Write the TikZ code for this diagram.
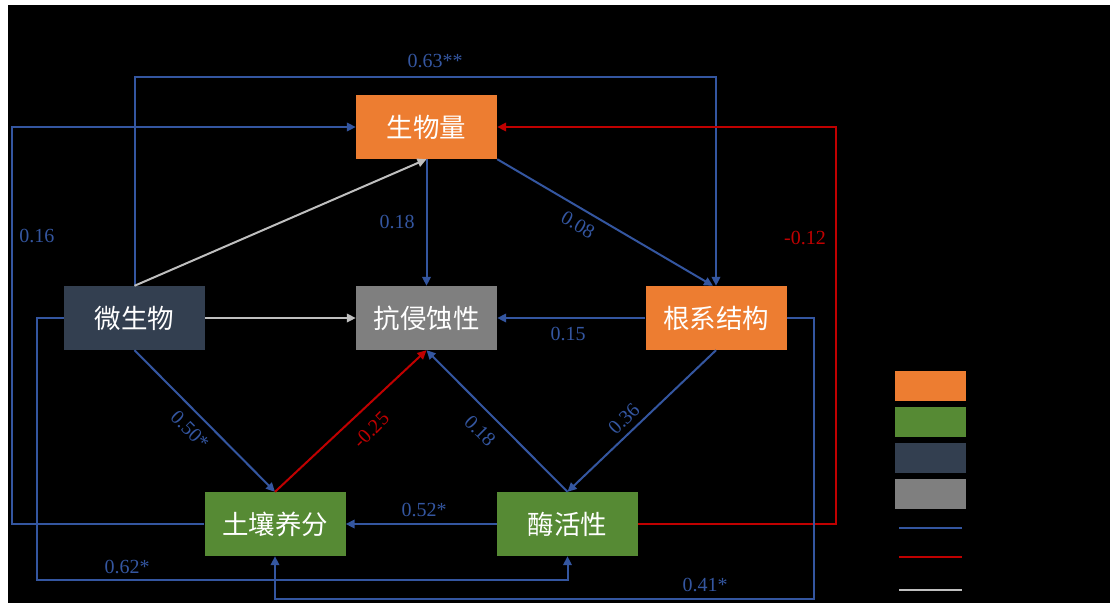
\documentclass[tikz,border=0pt]{standalone}
\usepackage{fontspec}
\setmainfont{Liberation Serif}
\newfontfamily\cjk{Noto Sans CJK SC}
\usetikzlibrary{arrows.meta}
\definecolor{lblue}{RGB}{52,86,160}
\definecolor{lred}{RGB}{192,0,0}
\definecolor{lgray}{RGB}{191,191,191}
\definecolor{corange}{RGB}{237,125,49}
\definecolor{cgreen}{RGB}{86,138,52}
\definecolor{cdark}{RGB}{51,63,80}
\definecolor{cgray}{RGB}{127,127,127}
\begin{document}
\begin{tikzpicture}[x=1pt,y=-1pt,
  box/.style={rectangle, minimum width=141pt, minimum height=64pt, inner sep=0pt,
    text=white, font=\cjk\fontsize{26.5}{26.5}\selectfont},
  legbox/.style={rectangle, minimum width=71pt, minimum height=30pt, inner sep=0pt},
  posarrow/.style={draw=lblue, line width=2pt, -{Triangle[length=9pt,width=8.5pt]}},
  negarrow/.style={draw=lred, line width=2pt, -{Triangle[length=9pt,width=8.5pt]}},
  nonarrow/.style={draw=lgray, line width=2pt, -{Triangle[length=9pt,width=8.5pt]}},
  lab/.style={text=lblue, font=\fontsize{20}{20}\selectfont, inner sep=0pt},
  nlab/.style={lab, text=lred}]
\useasboundingbox (0,0) rectangle (1110,603);
\fill[white] (0,0) rectangle (1110,603);
\fill[black] (8,5) rectangle (1110,603);

% nodes
\node[box, fill=corange] (bio) at (426.5,127) {生物量};
\node[box, fill=cgray] (anti) at (426.5,318) {抗侵蚀性};
\node[box, fill=cdark] (micro) at (134.5,318) {微生物};
\node[box, fill=corange] (root) at (716,318) {根系结构};
\node[box, fill=cgreen] (soil) at (275,524) {土壤养分};
\node[box, fill=cgreen] (enz) at (567.5,524) {酶活性};

% bend coordinates
\coordinate (c63) at (426,77);
\coordinate (c16) at (12,300);
\coordinate (c12) at (836,300);
\coordinate (c62) at (37,580);
\coordinate (c41) at (814,599);

% connectors
\draw[posarrow] (micro.north) |- (c63) -| (root.north);
\draw[posarrow] (soil.west) -| (c16) |- (bio.west);
\draw[negarrow] (enz.east) -| (c12) |- (bio.east);
\draw[posarrow] (micro.west) -| (c62) -| (enz.south);
\draw[posarrow] (root.east) -| (c41) -| (soil.south);
\draw[nonarrow] (micro.north) -- (bio.south);
\draw[posarrow] (bio.south) -- (anti.north);
\draw[posarrow] (bio.south east) -- ([xshift=-3pt]root.north);
\draw[nonarrow] (micro.east) -- (anti.west);
\draw[posarrow] (root.west) -- (anti.east);
\draw[posarrow] (micro.south) -- (soil.north);
\draw[negarrow] (soil.north) -- (anti.south);
\draw[posarrow] (enz.north) -- (anti.south);
\draw[posarrow] (root.south) -- (enz.north);
\draw[posarrow] (enz.west) -- (soil.east);

% labels
\node[lab] (l63) at (435,61) {0.63**};
\node[lab] (l16) at (37,236) {0.16};
\node[lab] (l18a) at (397,222) {0.18};
\node[lab, rotate=-30] (l08) at (578,225) {0.08};
\node[nlab] (l12) at (805,238) {-0.12};
\node[lab] (l15) at (568,334) {0.15};
\node[lab, rotate=-45] (l50) at (190,430) {0.50*};
\node[nlab, rotate=45] (l25) at (371,430) {-0.25};
\node[lab, rotate=-45] (l18b) at (480,431) {0.18};
\node[lab, rotate=45] (l36) at (624,419) {0.36};
\node[lab] (l52) at (424,510) {0.52*};
\node[lab] (l62) at (127,567) {0.62*};
\node[lab] (l41) at (705,585) {0.41*};

% legend
\node[legbox, fill=corange] (lg1) at (930.5,386) {};
\node[legbox, fill=cgreen] (lg2) at (930.5,421.5) {};
\node[legbox, fill=cdark] (lg3) at (930.5,457.5) {};
\node[legbox, fill=cgray] (lg4) at (930.5,493.5) {};
\coordinate (lp1) at (899,528);
\coordinate (lp2) at (962,528);
\coordinate (ln1) at (899,557);
\coordinate (ln2) at (962,557);
\coordinate (lz1) at (899,590);
\coordinate (lz2) at (962,590);
\draw[lblue, line width=2pt] (lp1) -- (lp2);
\draw[lred, line width=2pt] (ln1) -- (ln2);
\draw[lgray, line width=2pt] (lz1) -- (lz2);
\end{tikzpicture}
\end{document}
